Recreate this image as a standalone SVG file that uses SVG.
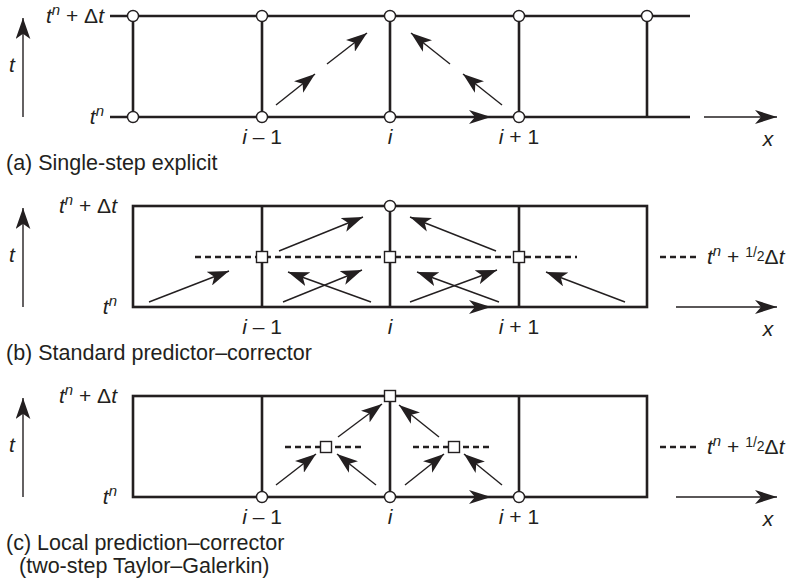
<svg xmlns="http://www.w3.org/2000/svg" width="794" height="582" viewBox="0 0 794 582">
<style>
.g{stroke:#231f20;stroke-width:2.6;fill:none}
.th{stroke:#231f20;stroke-width:1.4;fill:none}
.ar{stroke:#231f20;stroke-width:1.4;fill:none;marker-end:url(#ah)}
.d{stroke:#231f20;stroke-width:2.4;stroke-dasharray:6,4;fill:none}
.c{fill:#fff;stroke:#231f20;stroke-width:1.4}
.s{fill:#fff;stroke:#231f20;stroke-width:1.4}
text{font-family:"Liberation Sans",Arial,sans-serif;font-size:21px;fill:#231f20}
.it{font-style:italic}
.sup{font-size:15px;font-style:italic}
.fr{font-size:14px}
.cap{font-size:21.5px}
</style>
<defs>
<marker id="ah" viewBox="0 0 20 14" refX="20" refY="7" markerWidth="21" markerHeight="15" markerUnits="userSpaceOnUse" orient="auto">
<path d="M0,0 L20,7 L0,14 L5,7 Z" fill="#231f20"/>
</marker>
<marker id="ah2" viewBox="0 0 22 14" refX="22" refY="7" markerWidth="22" markerHeight="14" markerUnits="userSpaceOnUse" orient="auto">
<path d="M0,0 L22,7 L0,14 L6,7 Z" fill="#231f20"/>
</marker>
</defs>

<!-- Panel (a) -->
<g id="panel-a">
<g id="a-grid">
<line class="g" x1="110" y1="16" x2="690" y2="16"/>
<line class="g" x1="110" y1="117" x2="690" y2="117"/>
<line class="g" x1="133" y1="16" x2="133" y2="117"/>
<line class="g" x1="262" y1="16" x2="262" y2="117"/>
<line class="g" x1="390" y1="16" x2="390" y2="117"/>
<line class="g" x1="519" y1="16" x2="519" y2="117"/>
<line class="g" x1="647" y1="16" x2="647" y2="117"/>
</g>
<g id="a-connectors">
<line class="th" x1="23" y1="117" x2="23" y2="18" marker-end="url(#ah)"/>
<line class="th" x1="704" y1="117" x2="777" y2="117" marker-end="url(#ah2)"/>
<line class="ar" x1="276" y1="105" x2="315" y2="74"/>
<line class="ar" x1="327" y1="64" x2="367" y2="33"/>
<line class="ar" x1="502" y1="105" x2="463" y2="74"/>
<line class="ar" x1="450" y1="64" x2="411" y2="33"/>
<line class="th" x1="440" y1="117" x2="491" y2="117" marker-end="url(#ah2)"/>
</g>
<g id="a-nodes">
<circle class="c" cx="133" cy="16" r="5.5"/><circle class="c" cx="262" cy="16" r="5.5"/><circle class="c" cx="390" cy="16" r="5.5"/><circle class="c" cx="519" cy="16" r="5.5"/><circle class="c" cx="647" cy="16" r="5.5"/>
<circle class="c" cx="133" cy="117" r="5.5"/><circle class="c" cx="262" cy="117" r="5.5"/><circle class="c" cx="390" cy="117" r="5.5"/><circle class="c" cx="519" cy="117" r="5.5"/>
</g>
<g id="a-labels">
<text x="104" y="23" text-anchor="end"><tspan class="it">t</tspan><tspan class="sup" dy="-8">n</tspan><tspan dy="8"> + Δ</tspan><tspan class="it">t</tspan></text>
<text x="104" y="124" text-anchor="end"><tspan class="it">t</tspan><tspan class="sup" dy="-8">n</tspan></text>
<text x="9" y="72" class="it">t</text>
<text x="262" y="144" text-anchor="middle"><tspan class="it">i</tspan> – 1</text>
<text x="390" y="144" text-anchor="middle" class="it">i</text>
<text x="519" y="144" text-anchor="middle"><tspan class="it">i</tspan> + 1</text>
<text x="768" y="146" text-anchor="middle" class="it">x</text>
<text x="6" y="170" class="cap">(a) Single-step explicit</text>
</g>
</g>

<!-- Panel (b) -->
<g id="panel-b">
<g id="b-grid">
<rect class="g" x="133" y="206" width="514" height="101"/>
<line class="g" x1="262" y1="206" x2="262" y2="307"/>
<line class="g" x1="390" y1="206" x2="390" y2="307"/>
<line class="g" x1="519" y1="206" x2="519" y2="307"/>
<line class="d" x1="195" y1="257" x2="577" y2="257"/>
<line class="d" x1="660" y1="257" x2="700" y2="257"/>
</g>
<g id="b-connectors">
<line class="th" x1="23" y1="307" x2="23" y2="208" marker-end="url(#ah)"/>
<line class="th" x1="676" y1="307" x2="777" y2="307" marker-end="url(#ah2)"/>
<line class="ar" x1="149" y1="302" x2="229" y2="271"/>
<line class="ar" x1="279" y1="251" x2="363" y2="217"/>
<line class="ar" x1="283" y1="302" x2="362" y2="270"/>
<line class="ar" x1="371" y1="302" x2="288" y2="272"/>
<line class="ar" x1="496" y1="251" x2="410" y2="217"/>
<line class="ar" x1="410" y1="302" x2="497" y2="270"/>
<line class="ar" x1="499" y1="302" x2="417" y2="272"/>
<line class="ar" x1="625" y1="302" x2="546" y2="272"/>
<line class="th" x1="440" y1="307" x2="491" y2="307" marker-end="url(#ah2)"/>
</g>
<g id="b-nodes">
<circle class="c" cx="390" cy="206" r="5.5"/>
<rect class="s" x="256.5" y="251.5" width="11" height="11"/>
<rect class="s" x="384.5" y="251.5" width="11" height="11"/>
<rect class="s" x="513.5" y="251.5" width="11" height="11"/>
</g>
<g id="b-labels">
<text x="117" y="213" text-anchor="end"><tspan class="it">t</tspan><tspan class="sup" dy="-8">n</tspan><tspan dy="8"> + Δ</tspan><tspan class="it">t</tspan></text>
<text x="117" y="314" text-anchor="end"><tspan class="it">t</tspan><tspan class="sup" dy="-8">n</tspan></text>
<text x="9" y="262" class="it">t</text>
<text x="707" y="264"><tspan class="it">t</tspan><tspan class="sup" dy="-8">n</tspan><tspan dy="8"> + </tspan><tspan class="fr" dy="-7">1</tspan><tspan class="fr">/</tspan><tspan class="fr" dy="4">2</tspan><tspan dy="3">Δ</tspan><tspan class="it">t</tspan></text>
<text x="262" y="334" text-anchor="middle"><tspan class="it">i</tspan> – 1</text>
<text x="390" y="334" text-anchor="middle" class="it">i</text>
<text x="519" y="334" text-anchor="middle"><tspan class="it">i</tspan> + 1</text>
<text x="768" y="336" text-anchor="middle" class="it">x</text>
<text x="6" y="360" class="cap">(b) Standard predictor–corrector</text>
</g>
</g>

<!-- Panel (c) -->
<g id="panel-c">
<g id="c-grid">
<rect class="g" x="133" y="396" width="514" height="101"/>
<line class="g" x1="262" y1="396" x2="262" y2="497"/>
<line class="g" x1="390" y1="396" x2="390" y2="497"/>
<line class="g" x1="519" y1="396" x2="519" y2="497"/>
<line class="d" x1="285" y1="447" x2="364" y2="447"/>
<line class="d" x1="413" y1="447" x2="493" y2="447"/>
<line class="d" x1="660" y1="447" x2="700" y2="447"/>
</g>
<g id="c-connectors">
<line class="th" x1="23" y1="497" x2="23" y2="398" marker-end="url(#ah)"/>
<line class="th" x1="676" y1="497" x2="777" y2="497" marker-end="url(#ah2)"/>
<line class="ar" x1="276" y1="485" x2="316" y2="454"/>
<line class="ar" x1="376" y1="485" x2="337" y2="454"/>
<line class="ar" x1="338" y1="437" x2="382" y2="404"/>
<line class="ar" x1="405" y1="485" x2="444" y2="454"/>
<line class="ar" x1="502" y1="485" x2="464" y2="454"/>
<line class="ar" x1="439" y1="437" x2="399" y2="405"/>
<line class="th" x1="440" y1="497" x2="491" y2="497" marker-end="url(#ah2)"/>
</g>
<g id="c-nodes">
<rect class="s" x="384.5" y="390.5" width="11" height="11"/>
<rect class="s" x="320.5" y="441.5" width="11" height="11"/>
<rect class="s" x="448.5" y="441.5" width="11" height="11"/>
<circle class="c" cx="262" cy="497" r="5.5"/>
<circle class="c" cx="390" cy="497" r="5.5"/>
<circle class="c" cx="519" cy="497" r="5.5"/>
</g>
<g id="c-labels">
<text x="117" y="403" text-anchor="end"><tspan class="it">t</tspan><tspan class="sup" dy="-8">n</tspan><tspan dy="8"> + Δ</tspan><tspan class="it">t</tspan></text>
<text x="117" y="504" text-anchor="end"><tspan class="it">t</tspan><tspan class="sup" dy="-8">n</tspan></text>
<text x="9" y="452" class="it">t</text>
<text x="707" y="454"><tspan class="it">t</tspan><tspan class="sup" dy="-8">n</tspan><tspan dy="8"> + </tspan><tspan class="fr" dy="-7">1</tspan><tspan class="fr">/</tspan><tspan class="fr" dy="4">2</tspan><tspan dy="3">Δ</tspan><tspan class="it">t</tspan></text>
<text x="262" y="524" text-anchor="middle"><tspan class="it">i</tspan> – 1</text>
<text x="390" y="524" text-anchor="middle" class="it">i</text>
<text x="519" y="524" text-anchor="middle"><tspan class="it">i</tspan> + 1</text>
<text x="768" y="526" text-anchor="middle" class="it">x</text>
<text x="6" y="550" class="cap">(c) Local prediction–corrector</text>
<text x="19" y="573" class="cap">(two-step Taylor–Galerkin)</text>
</g>
</g>
</svg>
